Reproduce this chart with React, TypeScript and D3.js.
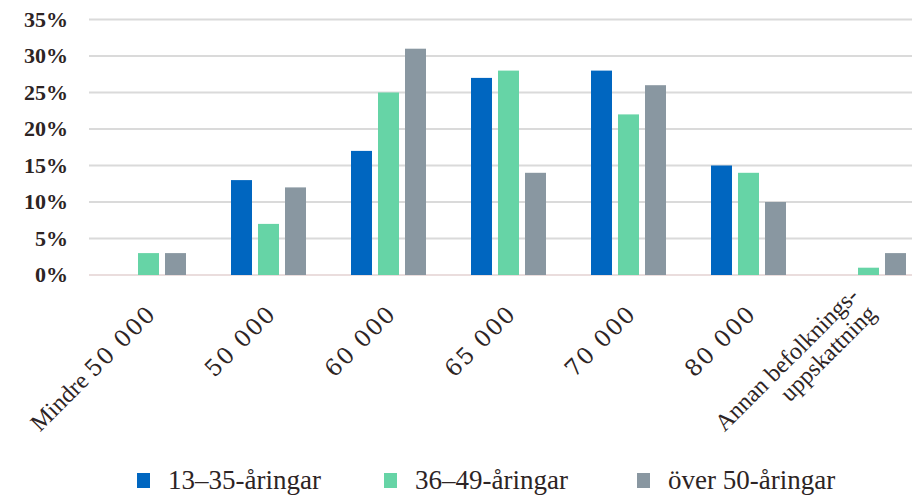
import React from "react";
import * as d3 from "d3";

const categories = ["Mindre 50 000", "50 000", "60 000", "65 000", "70 000", "80 000", "Annan befolknings-\nuppskattning"];
const seriesNames = ["13–35-åringar", "36–49-åringar", "över 50-åringar"];
const young = [0, 13, 17, 27, 28, 15, 0];
const middle = [3, 7, 25, 28, 22, 14, 1];
const older = [3, 12, 31, 14, 26, 10, 3];
const yTicks = [0, 5, 10, 15, 20, 25, 30, 35];

const seriesValues = [young, middle, older];
const colors = ["#0066c0", "#66d4a6", "#8997a1"];
const textColor = "#2d2424";
const serif = "'Liberation Serif', 'DejaVu Serif', serif";
const digitFont = "'DejaVu Serif', serif";

function splitDigits(line: string) {
  const m = line.match(/^(.*?)([0-9][0-9 ]*)$/);
  if (!m) return [{ t: line, num: false }];
  const parts: { t: string; num: boolean }[] = [];
  if (m[1]) parts.push({ t: m[1], num: false });
  parts.push({ t: m[2], num: true });
  return parts;
}

export default function App() {
  const W = 912, H = 495;
  const x = d3.scaleBand<string>().domain(categories).range([88.5, 928.5]).paddingInner(0.375).paddingOuter(0.1875);
  const xs = d3.scaleBand<string>().domain(seriesNames).range([0, x.bandwidth()]).paddingInner(6 / 27).paddingOuter(0);
  const y = d3.scaleLinear().domain([0, 35]).range([275, 19.5]);
  const legendX = [137, 384, 637];

  return (
    <svg width={W} height={H} style={{ position: "absolute", left: 0, top: 0, background: "#fff" }}>
      {yTicks.map((t) => (
        <g key={t}>
          <line x1={89} x2={W} y1={y(t)} y2={y(t)} stroke={t === 0 ? "#eadddd" : "#dadada"} strokeWidth={2} />
          <text x={68} y={y(t)} dy="0.34em" textAnchor="end" fontFamily={serif} fontSize={22} fontWeight="bold" fill={textColor}>
            {t}%
          </text>
        </g>
      ))}
      {seriesNames.map((s, si) =>
        categories.map((c, ci) => {
          const v = seriesValues[si][ci];
          if (!v) return null;
          return (
            <rect key={s + c} x={(x(c) as number) + (xs(s) as number)} width={xs.bandwidth()} y={y(v)} height={y(0) - y(v)} fill={colors[si]} />
          );
        })
      )}
      {categories.map((c) => {
        const cx = (x(c) as number) + x.bandwidth() / 2;
        const lines = c.split("\n");
        const ax = cx + 9, ay = 315;
        return (
          <g key={c} transform={`translate(${ax},${ay}) rotate(-45)`}>
            {lines.map((l, i) => (
              <text key={i} x={0} y={(i - (lines.length - 1)) * 25} textAnchor="end" fontFamily={serif} fontSize={24} fill={textColor}>
                {splitDigits(l).map((p, k) =>
                  p.num ? (
                    <tspan key={k} fontFamily={digitFont} fontSize={23} letterSpacing={1.5}>
                      {p.t}
                    </tspan>
                  ) : (
                    <tspan key={k}>{p.t}</tspan>
                  )
                )}
              </text>
            ))}
          </g>
        );
      })}
      {seriesNames.map((s, i) => (
        <g key={s}>
          <rect x={legendX[i]} y={473} width={13} height={15} fill={colors[i]} />
          <text x={legendX[i] + 31} y={489} fontFamily={serif} fontSize={27} fill={textColor}>
            {s}
          </text>
        </g>
      ))}
    </svg>
  );
}
